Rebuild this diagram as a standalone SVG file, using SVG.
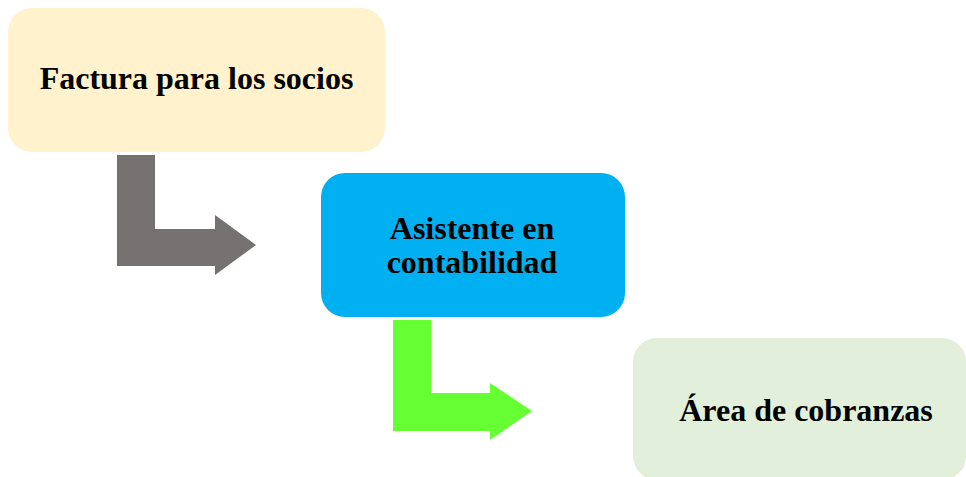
<svg xmlns="http://www.w3.org/2000/svg" width="966" height="477" viewBox="0 0 966 477">
<style>
.t{font-family:"Liberation Serif","Times New Roman",serif;font-weight:bold;font-size:32px;fill:#000;text-anchor:middle}
</style>
<rect width="966" height="477" fill="#fff"/>
<g id="connectors">
<path d="M117,155 H155 V229 H215 V215 L256,245 L215,275 V266 H117 Z" fill="#767171"/>
<path d="M393,320 H431 V393 H490 V383 L532,411 L490,440 V431 H393 Z" fill="#66FF33"/>
</g>
<g id="n1">
<rect x="8" y="8" width="377" height="144" rx="24" fill="#FFF2CC"/>
<text class="t" x="196.5" y="89">Factura para los socios</text>
</g>
<g id="n2">
<rect x="321" y="173" width="304" height="144" rx="24" fill="#00B0F0"/>
<text class="t" x="472" y="239">Asistente en</text>
<text class="t" x="472" y="273">contabilidad</text>
</g>
<g id="n3">
<rect x="633" y="338" width="333" height="142" rx="24" fill="#E2EFDA"/>
<text class="t" x="806" y="421">Área de cobranzas</text>
</g>
</svg>
